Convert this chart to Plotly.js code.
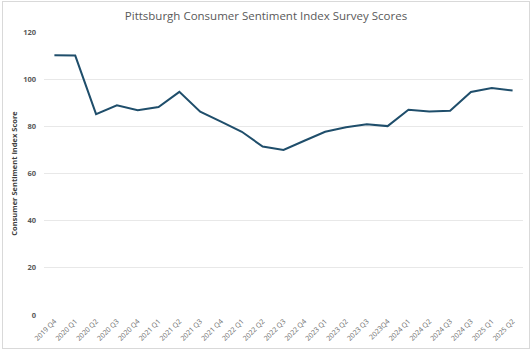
<!DOCTYPE html>
<html>
<head>
<meta charset="utf-8">
<script src="https://cdn.plot.ly/plotly-3.0.1.min.js"></script>
<style>
html,body{margin:0;padding:0;background:#fff;}
#wrap{position:relative;width:532px;height:351px;}
#chart{width:532px;height:351px;}
#frame{position:absolute;left:2px;top:1px;width:526px;height:346px;border:1px solid #d9d9d9;pointer-events:none;}
</style>
</head>
<body>
<div id="wrap"><div id="chart"></div><div id="frame"></div></div>
<script>
const quarters = ["2019 Q4","2020 Q1","2020 Q2","2020 Q3","2020 Q4","2021 Q1","2021 Q2","2021 Q3","2021 Q4","2022 Q1","2022 Q2","2022 Q3","2022 Q4","2023 Q1","2023 Q2","2023 Q3","2023Q4","2024 Q1","2024 Q2","2024 Q3","2024 Q3","2025 Q1","2025 Q2"];
const scores = [110.1,110.0,85.2,88.9,86.8,88.2,94.6,86.2,82.0,77.7,71.4,70.0,73.9,77.7,79.6,80.9,80.1,87.0,86.3,86.6,94.6,96.2,95.2];
const yTicks = [0,20,40,60,80,100,120];

const idx = quarters.map((q,i)=>i);

Plotly.newPlot('chart', [{
  x: idx,
  y: scores,
  type: 'scatter',
  mode: 'lines',
  line: {color: '#1f4e6b', width: 2},
  hoverinfo: 'skip'
}], {
  width: 532, height: 351,
  margin: {l: 44, r: 9, t: 31.5, b: 35.5},
  paper_bgcolor: '#ffffff',
  plot_bgcolor: '#ffffff',
  showlegend: false,
  title: {
    text: 'Pittsburgh Consumer Sentiment Index Survey Scores',
    font: {family: 'Open Sans, sans-serif', size: 11.5, color: '#595959'},
    x: 0.5, xanchor: 'center', y: 0.955, yanchor: 'middle'
  },
  xaxis: {
    range: [-0.5, quarters.length - 0.5],
    tickmode: 'array',
    tickvals: idx,
    ticktext: quarters,
    tickangle: -45,
    tickfont: {family: 'Open Sans, sans-serif', size: 7, color: '#6b6b6b'},
    showgrid: false,
    zeroline: false,
    showline: false,
    ticks: '',
    fixedrange: true
  },
  yaxis: {
    range: [0, 120],
    tickmode: 'array',
    tickvals: yTicks,
    ticktext: yTicks.map(String),
    tickfont: {family: 'Open Sans, sans-serif', size: 7.5, color: '#595959', weight: 'bold'},
    gridcolor: '#e8e8e8',
    gridwidth: 1,
    zeroline: false,
    showline: false,
    ticks: '',
    ticklabelstandoff: 7,
    title: {
      text: 'Consumer Sentiment Index Score',
      font: {family: 'Open Sans, sans-serif', size: 7.5, color: '#404040', weight: 'bold'},
      standoff: 4
    },
    fixedrange: true
  }
}, {staticPlot: true});
</script>
</body>
</html>
